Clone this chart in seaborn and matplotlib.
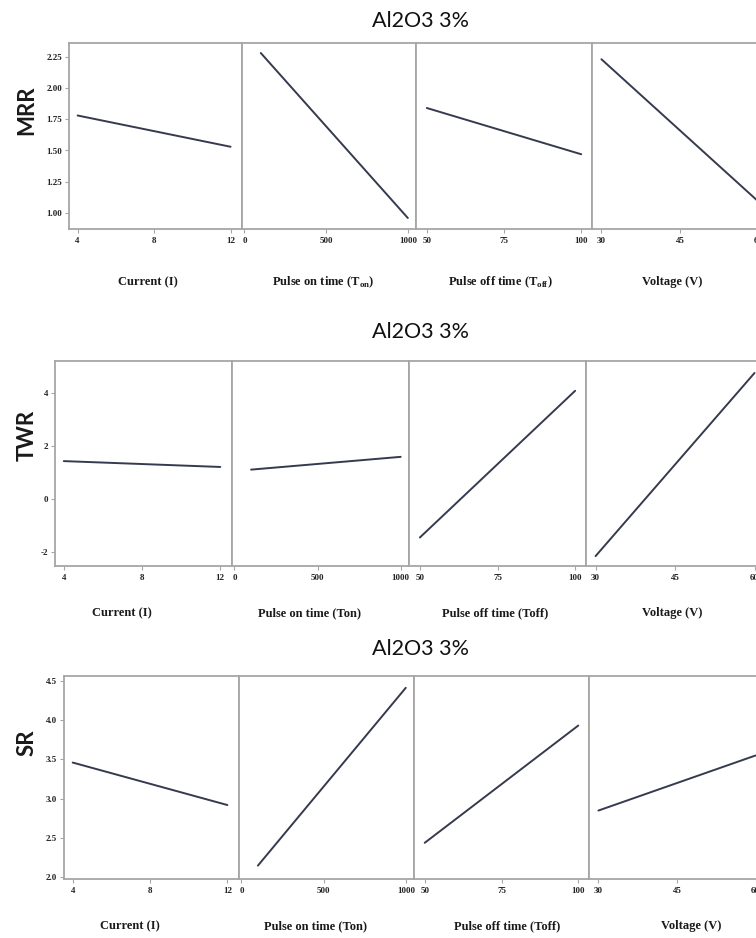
import matplotlib
matplotlib.use("Agg")
import matplotlib.pyplot as plt
import pandas as pd
import seaborn as sns

# ---------------- data ----------------
title_text = "Al2O3 3%"
responses = ["MRR", "TWR", "SR"]

current_levels = [4, 12]
ton_levels = [100, 1000]
toff_levels = [50, 100]
voltage_levels = [30, 60]

mrr_current = [1.78, 1.53]
mrr_ton = [2.28, 0.96]
mrr_toff = [1.84, 1.47]
mrr_voltage = [2.23, 1.09]

twr_current = [1.43, 1.21]
twr_ton = [1.11, 1.59]
twr_toff = [-1.44, 4.07]
twr_voltage = [-2.14, 4.74]

sr_current = [3.46, 2.92]
sr_ton = [2.15, 4.41]
sr_toff = [2.44, 3.93]
sr_voltage = [2.85, 3.55]

current_ticks = [4, 8, 12]
ton_ticks = [0, 500, 1000]
toff_ticks = [50, 75, 100]
voltage_ticks = [30, 45, 60]

mrr_yticks = [1.00, 1.25, 1.50, 1.75, 2.00, 2.25]
mrr_ylabels = ["1.00", "1.25", "1.50", "1.75", "2.00", "2.25"]
twr_yticks = [-2, 0, 2, 4]
twr_ylabels = ["-2", "0", "2", "4"]
sr_yticks = [2.0, 2.5, 3.0, 3.5, 4.0, 4.5]
sr_ylabels = ["2.0", "2.5", "3.0", "3.5", "4.0", "4.5"]

xlabels_row1 = ["Current (I)", r"Pulse on time (T$_\mathregular{on}$)",
                r"Pulse off time (T$_\mathregular{off}$)", "Voltage (V)"]
xlabels_rows = ["Current (I)", "Pulse on time (Ton)", "Pulse off time (Toff)", "Voltage (V)"]

levels = [current_levels, ton_levels, toff_levels, voltage_levels]
xticks = [current_ticks, ton_ticks, toff_ticks, voltage_ticks]
values = [
    [mrr_current, mrr_ton, mrr_toff, mrr_voltage],
    [twr_current, twr_ton, twr_toff, twr_voltage],
    [sr_current, sr_ton, sr_toff, sr_voltage],
]
yticks = [mrr_yticks, twr_yticks, sr_yticks]
yticklabels = [mrr_ylabels, twr_ylabels, sr_ylabels]
xlabels = [xlabels_row1, xlabels_rows, xlabels_rows]

# ---------------- layout / style ----------------
sns.set_theme(style="white")
plt.rcParams["font.family"] = ["Liberation Serif", "DejaVu Serif"]
plt.rcParams["mathtext.fontset"] = "custom"
plt.rcParams["mathtext.rm"] = "Liberation Serif:bold"

W, H = 756, 938
fig = plt.figure(figsize=(W / 100, H / 100), dpi=100)
fig.patch.set_facecolor("white")

row_x = [[69, 242, 416, 592, 767],
         [55, 232, 409, 586, 763],
         [64, 239, 414, 589, 764]]
row_y = [(43, 229), (361, 566), (676, 879)]
xlims = [(3.55, 12.6), (-15, 1050), (46.5, 103.5), (28.2, 61.6)]
ylims = [(0.872, 2.36), (-2.51, 5.19), (1.98, 4.56)]
title_y = [21, 332, 649]
ylab_y = [110, 435, 743]
xlab_y = [282, 613, 926]
xlab_x = [[148, 323, 500, 672],
          [122, 309, 495, 672],
          [130, 315, 507, 691]]

frame_color = "#a6a6a6"
line_color = "#353a4e"
tick_text = "#222222"

for r in range(3):
    top, bot = row_y[r]
    for c in range(4):
        x0, x1 = row_x[r][c], row_x[r][c + 1]
        ax = fig.add_axes([x0 / W, 1 - bot / H, (x1 - x0) / W, (bot - top) / H])
        df = pd.DataFrame({"x": levels[c], "y": values[r][c]})
        sns.lineplot(data=df, x="x", y="y", ax=ax, color=line_color, linewidth=1.4)
        ax.set_xlim(*xlims[c])
        ax.set_ylim(*ylims[r])
        ax.set_xticks(xticks[c])
        ax.set_xticklabels([str(t) for t in xticks[c]], fontsize=6.5,
                           fontweight="bold", color=tick_text)
        if c == 0:
            ax.set_yticks(yticks[r])
            ax.set_yticklabels(yticklabels[r], fontsize=6.5,
                               fontweight="bold", color=tick_text)
            ax.tick_params(axis="y", direction="out", length=3, width=0.8,
                           color=frame_color, left=True, pad=2)
        else:
            ax.set_yticks([])
        ax.tick_params(axis="x", direction="out", length=3, width=0.8,
                       color=frame_color, bottom=True, pad=3)
        ax.set_ylabel("")
        ax.set_xlabel(xlabels[r][c], fontsize=9, fontweight="bold", color="#1a1a1a")
        ax.xaxis.set_label_coords((xlab_x[r][c] - x0) / (x1 - x0),
                                  (bot - xlab_y[r]) / (bot - top))
        ax.xaxis.label.set_verticalalignment("center")
        for s in ax.spines.values():
            s.set_color(frame_color)
            s.set_linewidth(1.3)
            s.set_visible(True)
        ax.set_facecolor("white")
    fig.text(421 / W, 1 - title_y[r] / H, title_text, ha="center", va="center",
             fontsize=15.5, family=["Lato", "DejaVu Sans"], color="#111111")
    fig.text(27 / W, 1 - ylab_y[r] / H, responses[r], ha="center", va="center",
             rotation=90, fontsize=16, fontweight="bold",
             family=["Lato", "DejaVu Sans"], color="#1a1a1a")

fig.savefig("out.png", dpi=100)
